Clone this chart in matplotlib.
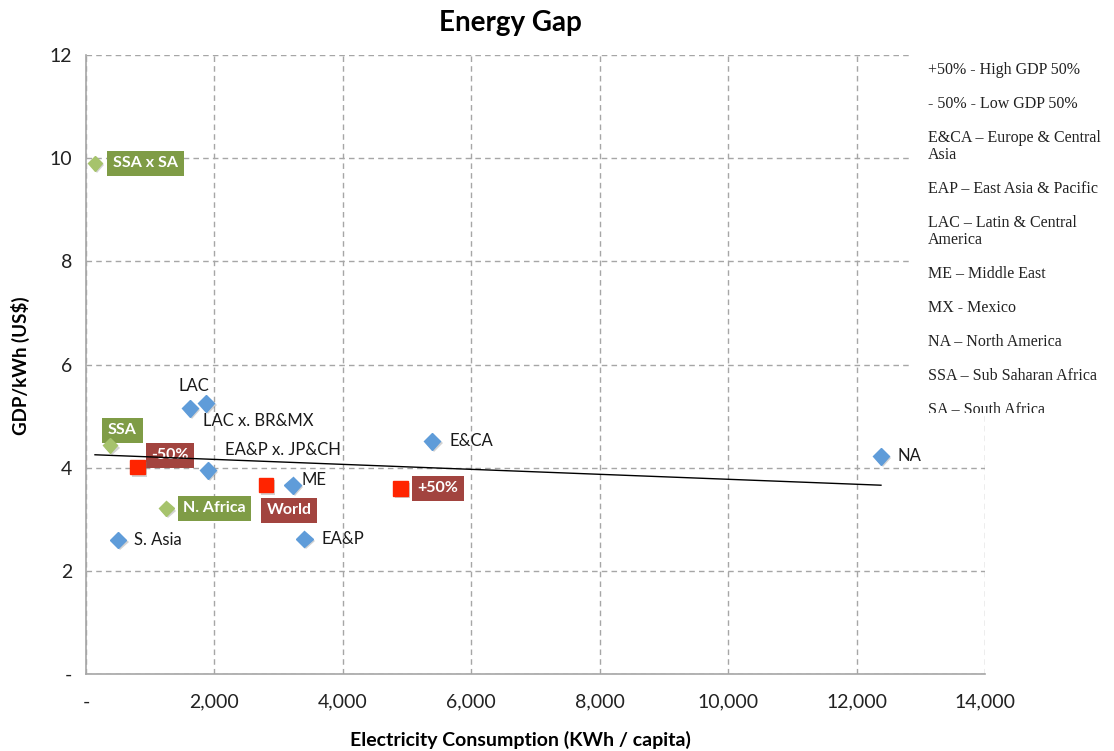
import matplotlib
matplotlib.use("Agg")
import matplotlib.pyplot as plt
import matplotlib.patheffects as pe
from matplotlib.patches import Rectangle
from matplotlib.transforms import Bbox, TransformedBbox
from matplotlib.ticker import FuncFormatter

plt.rcParams['font.family'] = ['Lato', 'DejaVu Sans']

# --- data -------------------------------------------------------------
blue_names = ["LAC", "LAC x. BR&MX", "EA&P x. JP&CH", "S. Asia", "ME", "EA&P", "E&CA", "NA"]
blue_kwh = [1620, 1870, 1900, 500, 3220, 3400, 5390, 12380]
blue_gdp = [5.15, 5.25, 3.95, 2.60, 3.66, 2.62, 4.51, 4.22]

green_names = ["SSA x SA", "SSA", "N. Africa"]
green_kwh = [140, 375, 1250]
green_gdp = [9.90, 4.43, 3.21]

income_names = ["-50%", "World", "+50%"]
income_kwh = [800, 2800, 4900]
income_gdp = [4.01, 3.66, 3.60]

trend_kwh = [140, 12380]
trend_gdp = [4.25, 3.66]

legend_lines = [
    "+50% - High GDP 50%",
    "- 50% - Low GDP 50%",
    "E&CA \u2013 Europe & Central\nAsia",
    "EAP \u2013 East Asia & Pacific",
    "LAC \u2013 Latin & Central\nAmerica",
    "ME \u2013 Middle East",
    "MX - Mexico",
    "NA \u2013 North America",
    "SSA \u2013 Sub Saharan Africa",
    "SA \u2013 South Africa",
]

# label offsets in pixels (dx, dy, ha)
blue_off = [(4, 22, 'center'), (-3, -18, 'left'), (17, 20, 'left'), (16, 0, 'left'),
            (9, 5, 'left'), (17, 0, 'left'), (17, 0, 'left'), (17, 0, 'left')]
green_off = [(18, 0), (-2, 15), (17, 0)]
income_off = [(14, 12), (1, -25), (17, 0)]

BLUE = '#5f9cd9'
LGREEN = '#a6c36c'
GBOX = '#7f9c46'
RBOX = '#a2443f'
RED = '#ff2400'

W, H = 1114, 751
fig = plt.figure(figsize=(W / 100, H / 100), dpi=100)
ax = fig.add_axes([86 / W, 1 - 674 / H, (985 - 86) / W, (674 - 55) / H])

shadow = [pe.SimplePatchShadow(offset=(1.5, -1.5), shadow_rgbFace='#808080', alpha=0.35), pe.Normal()]

ax.plot(blue_kwh, blue_gdp, linestyle='none', marker='D', ms=8.5, color=BLUE,
        mec=BLUE, zorder=5, path_effects=shadow)
ax.plot(green_kwh, green_gdp, linestyle='none', marker='D', ms=7.5, color=LGREEN,
        mec=LGREEN, zorder=5, path_effects=shadow)
ax.plot(income_kwh, income_gdp, linestyle='none', marker='s', ms=10.5, color=RED,
        mec=RED, zorder=5, path_effects=shadow)
ax.plot(trend_kwh, trend_gdp, color='black', lw=1.0, zorder=6)

for name, x, y, (dx, dy, ha) in zip(blue_names, blue_kwh, blue_gdp, blue_off):
    ax.annotate(name, (x, y), xytext=(dx, dy), textcoords='offset pixels',
                ha=ha, va='center', fontsize=12, color='#1a1a1a', zorder=7)

box_kw = dict(textcoords='offset pixels', ha='left', va='center', fontsize=11.5,
              fontweight='bold', color='white', zorder=4)
for name, x, y, (dx, dy) in zip(green_names, green_kwh, green_gdp, green_off):
    ax.annotate(name, (x, y), xytext=(dx, dy),
                bbox=dict(boxstyle='square,pad=0.35', fc=GBOX, ec='none'), **box_kw)

for name, x, y, (dx, dy) in zip(income_names, income_kwh, income_gdp, income_off):
    ax.annotate(name, (x, y), xytext=(dx, dy),
                bbox=dict(boxstyle='square,pad=0.35', fc=RBOX, ec='none'), **box_kw)

# axes styling
ax.set_xlim(0, 14000)
ax.set_ylim(0, 12)
ax.set_xticks(range(0, 14001, 2000))
ax.set_yticks(range(0, 13, 2))
ax.xaxis.set_major_formatter(FuncFormatter(lambda v, p: '-' if v == 0 else f'{int(v):,}'))
ax.yaxis.set_major_formatter(FuncFormatter(lambda v, p: '-' if v == 0 else f'{int(v)}'))
ax.tick_params(length=0, labelsize=14, colors='#222222')
ax.tick_params(axis='x', pad=14)
ax.tick_params(axis='y', pad=10)
ax.grid(True, linestyle=(0, (4, 3)), color='#a6a6a6', lw=1.0)
ax.set_axisbelow(True)
for s in ('top', 'right'):
    ax.spines[s].set_visible(False)
for s in ('left', 'bottom'):
    ax.spines[s].set_color('#a6a6a6')
    ax.spines[s].set_linewidth(1.2)

fig.text(510 / W, 1 - 23 / H, 'Energy Gap', ha='center', va='center',
         fontsize=20, fontweight='bold')
fig.text(520 / W, 1 - 740 / H, 'Electricity Consumption (KWh / capita)', ha='center',
         va='center', fontsize=14, fontweight='bold')
fig.text(20 / W, 1 - 366 / H, 'GDP/kWh (US$)', ha='center', va='center',
         rotation=90, fontsize=13.5, fontweight='bold')

# text box with the abbreviations, cut off at its bottom edge
box_left, box_top, box_bottom = 910, 50, 413
fig.add_artist(Rectangle((box_left / W, 1 - box_bottom / H), 1 - box_left / W,
                         (box_bottom - box_top) / H, transform=fig.transFigure,
                         fc='white', ec='none', zorder=2))
clip = TransformedBbox(Bbox([[box_left / W, 1 - box_bottom / H], [1, 1 - box_top / H]]),
                       fig.transFigure)
y = 62
for entry in legend_lines:
    t = fig.text(928 / W, 1 - y / H, entry, ha='left', va='top',
                 fontsize=11.5, family=['Liberation Serif', 'DejaVu Serif'],
                 color='#222222', linespacing=1.05, zorder=3)
    t.set_clip_box(clip)
    t.set_clip_on(True)
    y += 34 + 17 * entry.count('\n')

fig.savefig('out.png', dpi=100)
